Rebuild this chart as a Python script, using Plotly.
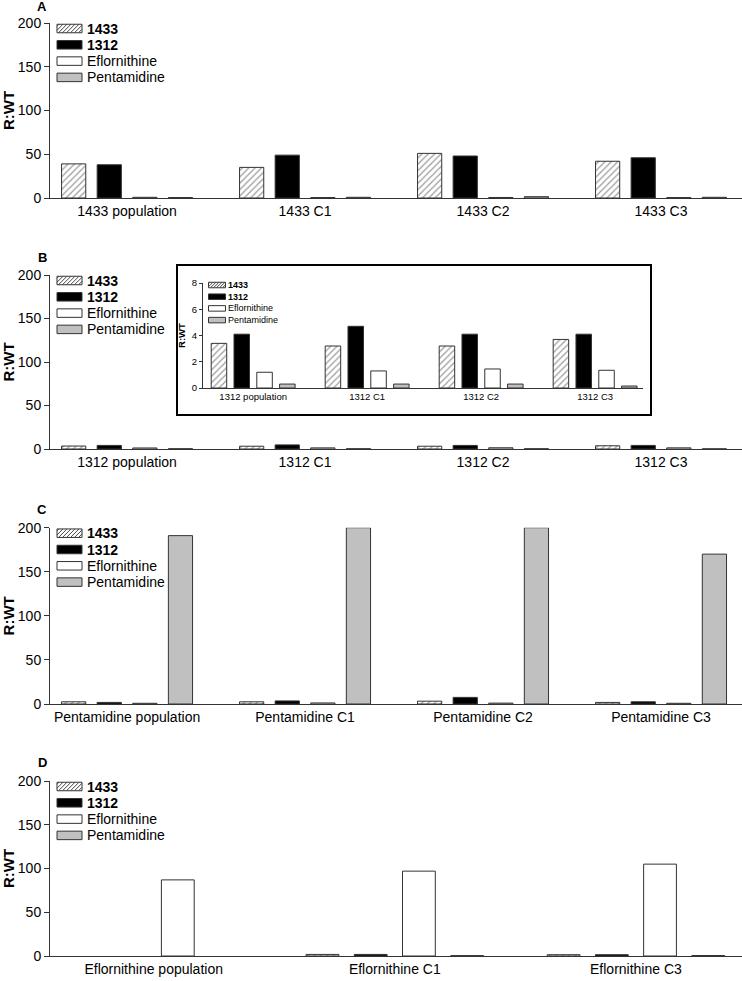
import plotly.graph_objects as go

W, H = 742, 981
FONT = "Arial, Liberation Sans, sans-serif"

series_names = ["1433", "1312", "Eflornithine", "Pentamidine"]
legend_labels = ["<b>1433</b>", "<b>1312</b>", "Eflornithine", "Pentamidine"]

# Panel A
groups_A = ["1433 population", "1433 C1", "1433 C2", "1433 C3"]
A_1433 = [39, 35, 51, 42]
A_1312 = [38, 49, 48, 46]
A_eflo = [0.8, 0.5, 0.6, 0.5]
A_pent = [0.5, 0.8, 1.5, 0.8]

# Panel B (and inset)
groups_B = ["1312 population", "1312 C1", "1312 C2", "1312 C3"]
B_1433 = [3.4, 3.2, 3.2, 3.7]
B_1312 = [4.1, 4.7, 4.1, 4.1]
B_eflo = [1.2, 1.3, 1.45, 1.35]
B_pent = [0.3, 0.3, 0.3, 0.15]

# Panel C
groups_C = ["Pentamidine population", "Pentamidine C1", "Pentamidine C2", "Pentamidine C3"]
C_1433 = [2.5, 2.5, 3.2, 1.8]
C_1312 = [1.8, 3.5, 7.5, 2.5]
C_eflo = [0.8, 1.2, 1.0, 0.8]
C_pent = [191, 200, 200, 170]

# Panel D
groups_D = ["Eflornithine population", "Eflornithine C1", "Eflornithine C3"]
D_1433 = [None, 1.8, 1.5]
D_1312 = [None, 1.8, 1.5]
D_eflo = [87, 97, 105]
D_pent = [None, 0.4, 0.5]

y_ticks_main = [0, 50, 100, 150, 200]
y_ticks_inset = [0, 2, 4, 6, 8]

OUTLINE = "#333333"
HATCH = "#444444"
FILLS = ["white", "black", "white", "#c0c0c0"]


def px_x(p):
    return p / W


def px_y(p):
    return 1 - p / H


def marker_for(i):
    line = dict(color=OUTLINE, width=1)
    if i == 0:
        return dict(color="white", line=line,
                    pattern=dict(shape="/", size=4.5, solidity=0.3,
                                 fgcolor=HATCH, bgcolor="white"))
    return dict(color=FILLS[i], line=line)


fig = go.Figure()

panels = [
    ("x", "y", groups_A, [A_1433, A_1312, A_eflo, A_pent]),
    ("x2", "y2", groups_B, [B_1433, B_1312, B_eflo, B_pent]),
    ("x3", "y3", groups_C, [C_1433, C_1312, C_eflo, C_pent]),
    ("x4", "y4", groups_D, [D_1433, D_1312, D_eflo, D_pent]),
    ("x5", "y5", groups_B, [B_1433, B_1312, B_eflo, B_pent]),
]

for xa, ya, cats, vals in panels:
    for i, v in enumerate(vals):
        fig.add_trace(go.Bar(x=cats, y=v, name=series_names[i], xaxis=xa, yaxis=ya,
                             marker=marker_for(i), showlegend=False,
                             offsetgroup=str(i)))

axis_color = "#333333"
main_y_px = [(23, 198), (275, 449), (527.7, 704), (781, 956)]
x_ranges = [[-0.433, 3.455], [-0.433, 3.455], [-0.433, 3.455], [-0.43, 2.44]]

layout = dict(
    width=W, height=H, margin=dict(l=0, r=0, t=0, b=0),
    paper_bgcolor="white", plot_bgcolor="white",
    barmode="group", bargap=0.2, bargroupgap=0.32, showlegend=False,
    font=dict(family=FONT, color="black", size=14),
)

for k, (top, bot) in enumerate(main_y_px):
    sfx = "" if k == 0 else str(k + 1)
    layout["xaxis" + sfx] = dict(
        domain=[px_x(50), 1], anchor="y" + sfx, range=x_ranges[k],
        showline=True, linecolor=axis_color, linewidth=1, ticks="",
        showgrid=False, zeroline=False, tickfont=dict(size=14), automargin=False)
    layout["yaxis" + sfx] = dict(
        domain=[px_y(bot), px_y(top)], anchor="x" + sfx, range=[0, 200],
        tickvals=y_ticks_main, showline=True, linecolor=axis_color, linewidth=1,
        ticks="outside", ticklen=5, tickcolor=axis_color, showgrid=False,
        zeroline=False, tickfont=dict(size=14), automargin=False,
        title=dict(text="<b>R:WT</b>", font=dict(size=15), standoff=4))

# inset axes
layout["xaxis5"] = dict(
    domain=[px_x(203), px_x(643)], anchor="y5", range=[-0.44, 3.42],
    showline=True, linecolor=axis_color, linewidth=1, ticks="", showgrid=False,
    zeroline=False, tickfont=dict(size=9.5), automargin=False)
layout["yaxis5"] = dict(
    domain=[px_y(388), px_y(283)], anchor="x5", range=[0, 8], tickvals=y_ticks_inset,
    showline=True, linecolor=axis_color, linewidth=1, ticks="outside", ticklen=3,
    tickcolor=axis_color, showgrid=False, zeroline=False, tickfont=dict(size=9.5),
    automargin=False, title=dict(text="<b>R:WT</b>", font=dict(size=9.5), standoff=4))

shapes = [dict(type="rect", xref="paper", yref="paper",
               x0=px_x(177), x1=px_x(651), y0=px_y(415), y1=px_y(265),
               line=dict(color="black", width=2), fillcolor="rgba(0,0,0,0)")]
annotations = []


def hatch_path(x0, y0, x1, y1, step):
    parts = []
    c = x0 + y0 + step / 2
    while c < x1 + y1:
        ax = max(x0, c - y1)
        bx = min(x1, c - y0)
        if bx > ax:
            parts.append("M%.5f,%.5f L%.5f,%.5f" % (px_x(ax), px_y(c - ax), px_x(bx), px_y(c - bx)))
        c += step
    return " ".join(parts)


def add_legend(x0, cy0, sw_w, sw_h, step, fsize, text_x, hstep):
    for i, lab in enumerate(legend_labels):
        cy = cy0 + i * step
        ya, yb = cy - sw_h / 2, cy + sw_h / 2
        shapes.append(dict(type="rect", xref="paper", yref="paper",
                           x0=px_x(x0), x1=px_x(x0 + sw_w), y0=px_y(yb), y1=px_y(ya),
                           fillcolor=FILLS[i], line=dict(color=OUTLINE, width=1)))
        if i == 0:
            shapes.append(dict(type="path", xref="paper", yref="paper",
                               path=hatch_path(x0, ya, x0 + sw_w, yb, hstep),
                               line=dict(color=HATCH, width=1)))
        annotations.append(dict(text=lab, x=px_x(text_x), y=px_y(cy), xref="paper", yref="paper",
                                showarrow=False, xanchor="left", yanchor="middle",
                                font=dict(size=fsize)))


for top, _ in main_y_px:
    add_legend(57, top + 5.5, 25, 8.5, 16.3, 14, 85, 4)
add_legend(208.5, 285, 17, 5.5, 11.7, 9, 226, 3)

letters = [("A", 7), ("B", 257), ("C", 509), ("D", 762)]
for L, yy in letters:
    annotations.append(dict(text="<b>%s</b>" % L, x=px_x(42), y=px_y(yy), xref="paper",
                            yref="paper", showarrow=False, font=dict(size=13),
                            xanchor="center", yanchor="middle"))

layout["shapes"] = shapes
layout["annotations"] = annotations

fig.update_layout(**layout)
fig.write_html("out.html", config={"displayModeBar": False},
               post_script="document.body.style.margin='0';")
